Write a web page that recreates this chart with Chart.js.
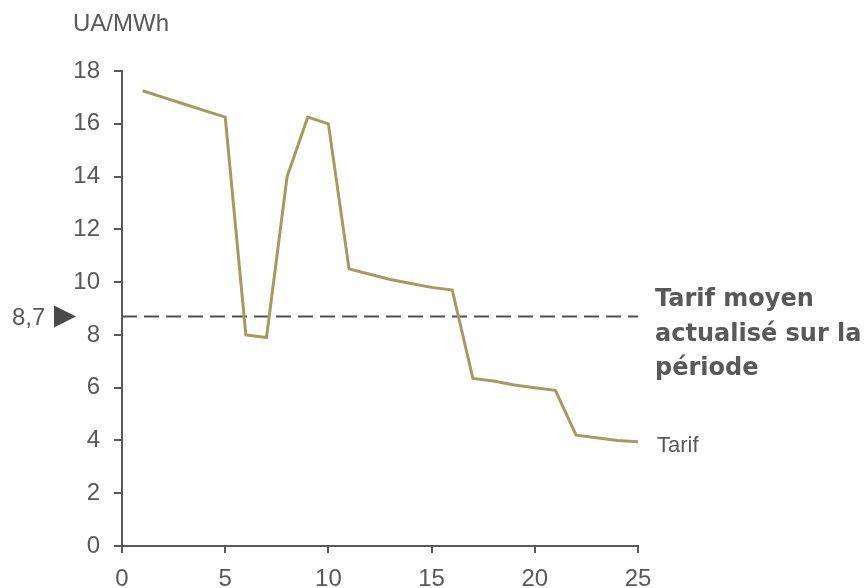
<!DOCTYPE html>
<html>
<head>
<meta charset="utf-8">
<script src="https://cdn.jsdelivr.net/npm/chart.js@4/dist/chart.umd.min.js"></script>
<style>
  html, body { margin: 0; padding: 0; background: #ffffff; }
  #wrap { width: 866px; height: 588px; position: relative; }
</style>
</head>
<body>
<div id="wrap"><canvas id="chart" width="866" height="588"></canvas></div>
<script>
// Years of the contract period and the tariff for each year (UA/MWh)
const years = [1, 2, 3, 4, 5, 6, 7, 8, 9, 10, 11, 12, 13, 14, 15, 16, 17, 18, 19, 20, 21, 22, 23, 24, 25];
const tariff = [17.25, 17.0, 16.75, 16.5, 16.25, 8.0, 7.9, 14.0, 16.25, 16.0, 10.5, 10.3, 10.1, 9.95, 9.8, 9.7, 6.35, 6.25, 6.1, 6.0, 5.9, 4.2, 4.1, 4.0, 3.95];

// Discounted average tariff over the period
const meanTariff = 8.7;
const meanLabel = '8,7';
const meanSpan = [0, 25];

const xTicks = [0, 5, 10, 15, 20, 25];
const yTicks = [0, 2, 4, 6, 8, 10, 12, 14, 16, 18];

const unitLabel = 'UA/MWh';
const seriesLabel = 'Tarif';
const meanText = ['Tarif moyen', 'actualisé sur la', 'période'];

const GREY = '#595959';
const OLIVE = '#a89a5c';

const annotations = {
  id: 'annotations',
  afterDraw(chart) {
    const ctx = chart.ctx;
    const x = chart.scales.x;
    const y = chart.scales.y;
    ctx.save();

    // unit label above the value axis
    ctx.fillStyle = GREY;
    ctx.font = '24px "Liberation Sans", Arial, sans-serif';
    ctx.textBaseline = 'alphabetic';
    ctx.textAlign = 'left';
    ctx.fillText(unitLabel, 73, 31);

    // average value marker on the left
    const yMean = y.getPixelForValue(meanTariff);
    ctx.fillText(meanLabel, 12, yMean + 9);
    ctx.fillStyle = '#4a4a4a';
    ctx.beginPath();
    ctx.moveTo(54, yMean - 11);
    ctx.lineTo(54, yMean + 11);
    ctx.lineTo(76, yMean);
    ctx.closePath();
    ctx.fill();

    // label of the average line
    ctx.fillStyle = GREY;
    ctx.font = 'bold 24px "DejaVu Sans", Verdana, sans-serif';
    meanText.forEach((line, i) => {
      ctx.fillText(line, x.right + 17, yMean - 10 + i * 34.5);
    });

    // series label at the end of the curve
    const lastX = x.getPixelForValue(years[years.length - 1]);
    const lastY = y.getPixelForValue(tariff[tariff.length - 1]);
    ctx.font = '22px "Liberation Sans", Arial, sans-serif';
    ctx.fillText(seriesLabel, lastX + 19, lastY + 10);

    ctx.restore();
  }
};

new Chart(document.getElementById('chart'), {
  type: 'line',
  data: {
    datasets: [
      {
        label: seriesLabel,
        data: years.map((yr, i) => ({ x: yr, y: tariff[i] })),
        borderColor: OLIVE,
        borderWidth: 3,
        pointRadius: 0,
        tension: 0,
        fill: false
      },
      {
        label: meanText.join(' '),
        data: meanSpan.map(v => ({ x: v, y: meanTariff })),
        borderColor: '#505050',
        borderWidth: 2,
        borderDash: [15, 7],
        pointRadius: 0,
        tension: 0,
        fill: false
      }
    ]
  },
  options: {
    responsive: false,
    animation: false,
    layout: { padding: { top: 71, right: 228, left: 0, bottom: 0 } },
    plugins: {
      legend: { display: false },
      tooltip: { enabled: false }
    },
    scales: {
      x: {
        type: 'linear',
        min: 0,
        max: 25,
        afterBuildTicks: (s) => { s.ticks = xTicks.map(v => ({ value: v })); },
        afterFit: (s) => { s.height = 42; },
        ticks: {
          color: GREY,
          font: { family: '"Liberation Sans", Arial, sans-serif', size: 24 },
          padding: 12,
          maxRotation: 0
        },
        grid: { drawOnChartArea: false, drawTicks: true, tickLength: 7, color: GREY, lineWidth: 2 },
        border: { color: GREY, width: 2 }
      },
      y: {
        type: 'linear',
        min: 0,
        max: 18,
        afterBuildTicks: (s) => { s.ticks = yTicks.map(v => ({ value: v })); },
        afterFit: (s) => { s.width = 122; },
        ticks: {
          color: GREY,
          font: { family: '"Liberation Sans", Arial, sans-serif', size: 24 },
          padding: 14
        },
        grid: { drawOnChartArea: false, drawTicks: true, tickLength: 8, color: GREY, lineWidth: 2 },
        border: { color: GREY, width: 2 }
      }
    }
  },
  plugins: [annotations]
});
</script>
</body>
</html>
